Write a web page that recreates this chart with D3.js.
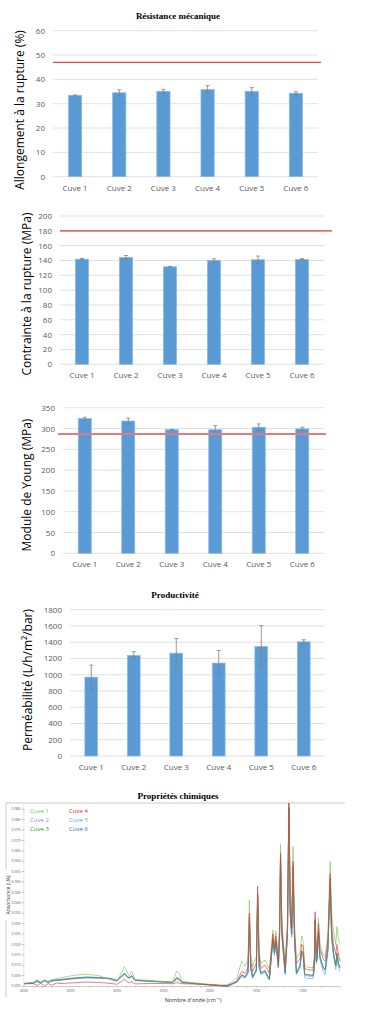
<!DOCTYPE html>
<meta charset="utf-8">
<script src="https://d3js.org/d3.v7.min.js"></script>
<style>
  body { margin: 0; background: #fff; }
  text { font-family: "Open Sans", sans-serif; }
</style>
<div id="my_dataviz"></div>
<script>

// ---- data ----
var cuves = ["Cuve 1", "Cuve 2", "Cuve 3", "Cuve 4", "Cuve 5", "Cuve 6"];

var allongement    = [33.4, 34.5, 35.1, 35.8, 35.1, 34.3];
var allongementErr = [0.2, 1.2, 0.8, 1.6, 1.5, 0.6];
var allongementRef = 47;
var allongementTicks = [0, 10, 20, 30, 40, 50, 60];

var contrainte    = [141.8, 144.2, 131.5, 140.0, 141.0, 141.5];
var contrainteErr = [1.0, 2.5, 0.6, 2.2, 5.0, 1.0];
var contrainteRef = 180;
var contrainteTicks = [0, 20, 40, 60, 80, 100, 120, 140, 160, 180, 200];

var young    = [324, 318, 297, 297, 303, 299];
var youngErr = [3, 7, 1, 10, 8, 4];
var youngRef = 287;
var youngTicks = [0, 50, 100, 150, 200, 250, 300, 350];

var permeabilite    = [970, 1238, 1265, 1143, 1348, 1405];
var permeabiliteErr = [148, 45, 180, 155, 255, 25];
var permeabiliteTicks = [0, 200, 400, 600, 800, 1000, 1200, 1400, 1600, 1800];

// FTIR spectra (wavenumber in cm-1, absorbance in UA)
var wavenumbers = [4000, 3900, 3860, 3820, 3780, 3740, 3700, 3650, 3600, 3450,
  3325, 3200, 3075, 3000, 2920, 2900, 2870, 2841, 2805, 2650,
  2500, 2400, 2357, 2330, 2300, 2150, 2000, 1880, 1818, 1760,
  1710, 1657, 1620, 1590, 1575, 1560, 1540, 1500, 1486, 1470,
  1450, 1407, 1380, 1360, 1322, 1305, 1290, 1263, 1250, 1240,
  1225, 1190, 1165, 1150, 1135, 1120, 1105, 1090, 1069, 1030,
  1013, 997, 980, 950, 890, 875, 868, 855, 845, 832,
  815, 780, 760, 730, 706, 690, 670, 645, 633, 615, 600];

var absCuve1 = [0.0012, 0.0015, 0.0030, 0.0018, 0.0028, 0.0022, 0.0032, 0.0035, 0.0040, 0.0052,
  0.0057, 0.0050, 0.0032, 0.0022, 0.0093, 0.0075, 0.0050, 0.0070, 0.0032, 0.0026,
  0.0022, 0.0020, 0.0072, 0.0062, 0.0022, 0.0015, 0.0008, 0.0004, 0.0006, 0.0020,
  0.0040, 0.0120, 0.0095, 0.0130, 0.0413, 0.0150, 0.0093, 0.0140, 0.0440, 0.0160,
  0.0110, 0.0125, 0.0100, 0.0080, 0.0270, 0.0200, 0.0265, 0.0140, 0.0300, 0.0680,
  0.0300, 0.0110, 0.0300, 0.0880, 0.0400, 0.0300, 0.0670, 0.0300, 0.0130, 0.0160,
  0.0240, 0.0220, 0.0100, 0.0090, 0.0088, 0.0150, 0.0300, 0.0180, 0.0200, 0.0325,
  0.0200, 0.0150, 0.0140, 0.0250, 0.0600, 0.0350, 0.0270, 0.0200, 0.0285, 0.0220, 0.0200];

var absCuve2 = [0.0011, 0.0014, 0.0022, 0.0016, 0.0024, 0.0018, 0.0025, 0.0028, 0.0030, 0.0037,
  0.0040, 0.0039, 0.0035, 0.0025, 0.0058, 0.0050, 0.0038, 0.0048, 0.0027, 0.0023,
  0.0019, 0.0017, 0.0042, 0.0036, 0.0017, 0.0011, 0.0005, 0.0001, -0.0002, 0.0010,
  0.0020, 0.0050, 0.0042, 0.0065, 0.0320, 0.0085, 0.0042, 0.0075, 0.0430, 0.0095,
  0.0060, 0.0070, 0.0048, 0.0032, 0.0225, 0.0155, 0.0215, 0.0090, 0.0245, 0.0610,
  0.0245, 0.0060, 0.0255, 0.0850, 0.0345, 0.0245, 0.0570, 0.0235, 0.0060, 0.0095,
  0.0165, 0.0155, 0.0052, 0.0048, 0.0046, 0.0095, 0.0310, 0.0115, 0.0135, 0.0265,
  0.0135, 0.0085, 0.0075, 0.0175, 0.0510, 0.0245, 0.0155, 0.0095, 0.0150, 0.0100, 0.0085];

var absCuve3 = [0.0012, 0.0016, 0.0028, 0.0015, 0.0030, 0.0018, 0.0026, 0.0028, 0.0030, 0.0038,
  0.0042, 0.0040, 0.0036, 0.0026, 0.0062, 0.0052, 0.0040, 0.0050, 0.0028, 0.0024,
  0.0020, 0.0018, 0.0040, 0.0034, 0.0018, 0.0012, 0.0006, 0.0002, 0.0000, 0.0012,
  0.0022, 0.0055, 0.0045, 0.0070, 0.0330, 0.0090, 0.0045, 0.0080, 0.0440, 0.0100,
  0.0065, 0.0075, 0.0050, 0.0035, 0.0230, 0.0160, 0.0220, 0.0095, 0.0250, 0.0620,
  0.0250, 0.0065, 0.0260, 0.0860, 0.0350, 0.0250, 0.0580, 0.0240, 0.0065, 0.0100,
  0.0170, 0.0160, 0.0058, 0.0054, 0.0052, 0.0100, 0.0320, 0.0120, 0.0140, 0.0270,
  0.0140, 0.0090, 0.0080, 0.0180, 0.0520, 0.0250, 0.0160, 0.0100, 0.0160, 0.0110, 0.0090];

var absCuve4 = [0.0010, 0.0012, 0.0002, 0.0014, 0.0000, 0.0012, 0.0004, 0.0014, 0.0012, 0.0016,
  0.0019, 0.0017, 0.0013, 0.0008, 0.0032, 0.0024, 0.0016, 0.0022, 0.0010, 0.0012,
  0.0012, 0.0011, 0.0016, 0.0014, 0.0011, 0.0009, 0.0006, 0.0003, 0.0002, 0.0010,
  0.0025, 0.0070, 0.0060, 0.0090, 0.0350, 0.0120, 0.0070, 0.0110, 0.0480, 0.0140,
  0.0085, 0.0100, 0.0080, 0.0060, 0.0250, 0.0180, 0.0240, 0.0120, 0.0280, 0.0640,
  0.0280, 0.0090, 0.0300, 0.0920, 0.0380, 0.0280, 0.0600, 0.0270, 0.0110, 0.0130,
  0.0200, 0.0190, 0.0085, 0.0078, 0.0076, 0.0140, 0.0357, 0.0160, 0.0180, 0.0300,
  0.0180, 0.0130, 0.0120, 0.0220, 0.0540, 0.0300, 0.0200, 0.0150, 0.0200, 0.0150, 0.0120];

var absCuve5 = [0.0011, 0.0013, 0.0020, 0.0015, 0.0022, 0.0017, 0.0023, 0.0026, 0.0028, 0.0035,
  0.0038, 0.0037, 0.0034, 0.0024, 0.0055, 0.0047, 0.0036, 0.0045, 0.0025, 0.0022,
  0.0018, 0.0016, 0.0030, 0.0026, 0.0016, 0.0010, 0.0004, 0.0000, -0.0004, 0.0008,
  0.0017, 0.0045, 0.0038, 0.0058, 0.0300, 0.0075, 0.0037, 0.0068, 0.0420, 0.0085,
  0.0055, 0.0065, 0.0042, 0.0028, 0.0215, 0.0145, 0.0205, 0.0085, 0.0235, 0.0600,
  0.0235, 0.0055, 0.0245, 0.0840, 0.0335, 0.0235, 0.0560, 0.0225, 0.0055, 0.0085,
  0.0155, 0.0145, 0.0040, 0.0037, 0.0036, 0.0085, 0.0300, 0.0105, 0.0125, 0.0255,
  0.0125, 0.0070, 0.0055, 0.0160, 0.0500, 0.0230, 0.0140, 0.0080, 0.0135, 0.0085, 0.0070];

var absCuve6 = [0.0012, 0.0015, 0.0024, 0.0017, 0.0026, 0.0019, 0.0027, 0.0030, 0.0032, 0.0039,
  0.0043, 0.0041, 0.0037, 0.0027, 0.0060, 0.0051, 0.0039, 0.0049, 0.0028, 0.0024,
  0.0020, 0.0018, 0.0036, 0.0031, 0.0018, 0.0012, 0.0006, 0.0002, 0.0000, 0.0011,
  0.0021, 0.0052, 0.0043, 0.0066, 0.0325, 0.0087, 0.0043, 0.0077, 0.0435, 0.0097,
  0.0062, 0.0072, 0.0049, 0.0034, 0.0228, 0.0158, 0.0218, 0.0092, 0.0248, 0.0615,
  0.0248, 0.0062, 0.0258, 0.0855, 0.0348, 0.0248, 0.0575, 0.0238, 0.0062, 0.0098,
  0.0168, 0.0158, 0.0055, 0.0053, 0.0051, 0.0098, 0.0315, 0.0118, 0.0138, 0.0268,
  0.0138, 0.0088, 0.0078, 0.0178, 0.0515, 0.0248, 0.0158, 0.0098, 0.0155, 0.0105, 0.0088];

var spectra = [absCuve1, absCuve2, absCuve3, absCuve4, absCuve5, absCuve6];
var spectraColors = ["#7cc35a", "#b07ad6", "#2a9a34", "#e0303a", "#3fb3e2", "#3f63c9"];
var absTicks = d3.range(0, 18).map(function(i) { return i * 0.005; });
var waveTicks = [4000, 3500, 3000, 2500, 2000, 1500, 1000];

// ---- page ----
var svg = d3.select("#my_dataviz")
  .append("svg")
    .attr("width", 384)
    .attr("height", 1024);

function title(txt, cx, y) {
  svg.append("text")
    .attr("x", cx).attr("y", y)
    .attr("text-anchor", "middle")
    .style("font-family", "'Liberation Serif', serif")
    .style("font-weight", "bold")
    .style("font-size", "9px")
    .text(txt);
}

function barChart(o) {
  var g = svg.append("g");

  var x = d3.scaleBand()
    .domain(cuves)
    .range([o.x0, o.x1])
    .paddingInner(0.7)
    .paddingOuter(0.35);

  var y = d3.scaleLinear()
    .domain([0, o.ticks[o.ticks.length - 1]])
    .range([o.yBottom, o.yTop]);

  // grid
  g.selectAll(".grid").data(o.ticks).enter().append("line")
    .attr("x1", o.x0).attr("x2", o.x1)
    .attr("y1", function(d) { return y(d); })
    .attr("y2", function(d) { return y(d); })
    .attr("stroke", "#d9d9d9").attr("stroke-width", 0.8);

  // tick labels
  g.selectAll(".tick").data(o.ticks).enter().append("text")
    .attr("x", o.x0 - 8)
    .attr("y", function(d) { return y(d) + 3; })
    .attr("text-anchor", "end")
    .style("font-size", "8px")
    .style("fill", "#595959")
    .text(function(d) { return d; });

  // bars
  g.selectAll(".bar").data(o.values).enter().append("rect")
    .attr("x", function(d, i) { return x(cuves[i]); })
    .attr("y", function(d) { return y(d); })
    .attr("width", x.bandwidth())
    .attr("height", function(d) { return y(0) - y(d); })
    .attr("fill", "#5b9bd5")
    .attr("stroke", "#8ab8e6")
    .attr("stroke-width", 0.7);

  // error bars
  var cx = function(i) { return x(cuves[i]) + x.bandwidth() / 2; };
  o.values.forEach(function(v, i) {
    var e = o.errors[i];
    var eg = g.append("g").attr("stroke", "#7f7f7f").attr("stroke-width", 0.8);
    eg.append("line").attr("x1", cx(i)).attr("x2", cx(i)).attr("y1", y(v - e)).attr("y2", y(v + e));
    eg.append("line").attr("x1", cx(i) - 2).attr("x2", cx(i) + 2).attr("y1", y(v - e)).attr("y2", y(v - e));
    eg.append("line").attr("x1", cx(i) - 2).attr("x2", cx(i) + 2).attr("y1", y(v + e)).attr("y2", y(v + e));
  });

  // reference line
  if (o.ref != null) {
    g.append("line")
      .attr("x1", o.refX0).attr("x2", o.refX1)
      .attr("y1", y(o.ref)).attr("y2", y(o.ref))
      .attr("stroke", o.refColor).attr("stroke-width", o.refWidth);
  }

  // category labels
  g.selectAll(".cat").data(cuves).enter().append("text")
    .attr("x", function(d) { return x(d) + x.bandwidth() / 2; })
    .attr("y", o.yBottom + 14)
    .attr("text-anchor", "middle")
    .style("font-size", "8px")
    .style("fill", "#595959")
    .text(function(d) { return d; });

  // y title
  g.append("text")
    .attr("transform", "translate(" + o.labelX + "," + o.labelY + ") rotate(-90)")
    .attr("text-anchor", "middle")
    .attr("dy", "0.35em")
    .style("font-size", "12px")
    .style("fill", "#000")
    .text(o.label);
}

title("Résistance mécanique", 178, 19);
barChart({ x0: 53, x1: 318, yBottom: 176.7, yTop: 30.7, ticks: allongementTicks,
  values: allongement, errors: allongementErr, ref: allongementRef,
  refX0: 53, refX1: 321, refColor: "#e04848", refWidth: 1.3,
  label: "Allongement à la rupture (%)", labelX: 20, labelY: 110 });

barChart({ x0: 60, x1: 324, yBottom: 364.3, yTop: 216, ticks: contrainteTicks,
  values: contrainte, errors: contrainteErr, ref: contrainteRef,
  refX0: 60, refX1: 332, refColor: "#d23c3c", refWidth: 1.1,
  label: "Contrainte à la rupture (MPa)", labelX: 27, labelY: 294 });

barChart({ x0: 63, x1: 324, yBottom: 553.3, yTop: 407.7, ticks: youngTicks,
  values: young, errors: youngErr, ref: youngRef,
  refX0: 58, refX1: 326, refColor: "#e07c80", refWidth: 2,
  label: "Module de Young (MPa)", labelX: 27, labelY: 485 });

title("Productivité", 175, 598);
barChart({ x0: 70, x1: 325, yBottom: 756, yTop: 609.7, ticks: permeabiliteTicks,
  values: permeabilite, errors: permeabiliteErr, ref: null,
  label: "Perméabilité (L/h/m²/bar)", labelX: 28, labelY: 680 });

// ---- FTIR spectrum ----
title("Propriétés chimiques", 178, 799);

var sx = d3.scaleLinear().domain([4000, 600]).range([24, 340]);
var sy = d3.scaleLinear().domain([0, 0.088]).range([986, 803]);

// frame
svg.append("line").attr("x1", 6).attr("x2", 345).attr("y1", 803).attr("y2", 803)
  .attr("stroke", "#aaa").attr("stroke-width", 0.6);
svg.append("line").attr("x1", 6).attr("x2", 6).attr("y1", 803).attr("y2", 870)
  .attr("stroke", "#aaa").attr("stroke-width", 0.6);
svg.append("line").attr("x1", 6).attr("x2", 6).attr("y1", 920).attr("y2", 997)
  .attr("stroke", "#aaa").attr("stroke-width", 0.6);

svg.append("text")
  .attr("transform", "translate(10,895) rotate(-90)")
  .attr("text-anchor", "middle")
  .style("font-size", "5px").style("fill", "#333")
  .text("Absorbance (UA)");

// y axis ticks
var minorY = d3.range(0, 88).map(function(i) { return i * 0.001; });
svg.selectAll(".ymin").data(minorY).enter().append("line")
  .attr("x1", 23).attr("x2", 24.5)
  .attr("y1", function(d) { return sy(d); }).attr("y2", function(d) { return sy(d); })
  .attr("stroke", "#aaa").attr("stroke-width", 0.4);
svg.selectAll(".ymaj").data(absTicks).enter().append("line")
  .attr("x1", 21.5).attr("x2", 24.5)
  .attr("y1", function(d) { return sy(d); }).attr("y2", function(d) { return sy(d); })
  .attr("stroke", "#888").attr("stroke-width", 0.5);
svg.selectAll(".ylab").data(absTicks).enter().append("text")
  .attr("x", 20.5)
  .attr("y", function(d) { return sy(d) + 1.2; })
  .attr("text-anchor", "end")
  .style("font-size", "3.5px").style("fill", "#555")
  .text(function(d) { return d3.format(".3f")(d); });

// x axis
svg.append("line").attr("x1", 24).attr("x2", 340).attr("y1", 986.5).attr("y2", 986.5)
  .attr("stroke", "#999").attr("stroke-width", 0.5);
var minorX = d3.range(4000, 599, -100);
svg.selectAll(".xmin").data(minorX).enter().append("line")
  .attr("x1", function(d) { return sx(d); }).attr("x2", function(d) { return sx(d); })
  .attr("y1", 986.5).attr("y2", 988)
  .attr("stroke", "#999").attr("stroke-width", 0.4);
svg.selectAll(".xlab").data(waveTicks).enter().append("text")
  .attr("x", function(d) { return sx(d); })
  .attr("y", 991.5)
  .attr("text-anchor", "middle")
  .style("font-size", "3.5px").style("fill", "#555")
  .text(function(d) { return d; });
svg.append("text")
  .attr("x", 193).attr("y", 1002)
  .attr("text-anchor", "middle")
  .style("font-size", "5.5px").style("fill", "#333")
  .text("Nombre d'onde (cm⁻¹)");

svg.append("clipPath").attr("id", "specClip")
  .append("rect").attr("x", 24).attr("y", 803).attr("width", 318).attr("height", 186);

var line = d3.line()
  .x(function(d, i) { return sx(wavenumbers[i]); })
  .y(function(d) { return sy(d); });

var drawOrder = [4, 5, 1, 2, 0, 3];
var sg = svg.append("g").attr("clip-path", "url(#specClip)");
drawOrder.forEach(function(k) {
  sg.append("path")
    .datum(spectra[k])
    .attr("d", line)
    .attr("fill", "none")
    .attr("stroke", spectraColors[k])
    .attr("stroke-width", 0.7)
    .attr("stroke-opacity", 0.9);
});

// legend
cuves.forEach(function(c, i) {
  svg.append("text")
    .attr("x", i < 3 ? 30 : 69)
    .attr("y", 813 + (i % 3) * 9)
    .style("font-size", "6px")
    .style("fill", spectraColors[i])
    .text(c);
});

</script>
